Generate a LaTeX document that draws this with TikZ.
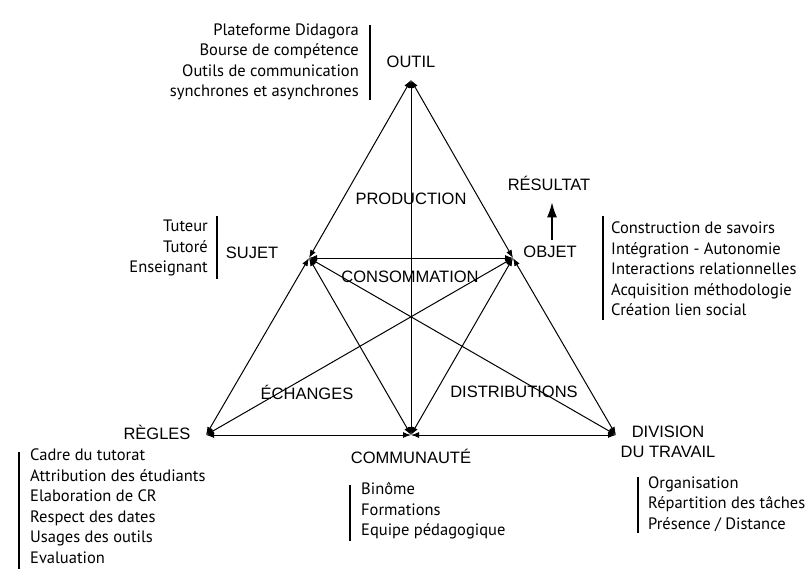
\documentclass[tikz,border=0pt]{standalone}
\usepackage{fontspec}
\usetikzlibrary{arrows.meta}
\newfontfamily\grosfont{Liberation Sans}
\newfontfamily\listefont{PT Sans}
\begin{document}
\begin{tikzpicture}[x=1bp,y=-1bp,
		titre/.style={font=\grosfont\fontsize{16.5bp}{20bp}\selectfont, inner sep=0},
		liste/.style={font=\listefont\fontsize{16.5bp}{20.5bp}\selectfont, inner sep=0},
		fleche/.style={{Latex[length=8bp,width=6bp]}-{Latex[length=8bp,width=6bp]}, line width=1bp},
		barre/.style={line width=1.3bp}]
				\useasboundingbox[fill=white] (0,0) rectangle (809,569);
				% sommets du triangle
				\coordinate (T) at (411,80);
				\coordinate (S) at (309,258);
				\coordinate (O) at (513,258);
				\coordinate (R) at (206,435);
				\coordinate (C) at (411,435);
				\coordinate (D) at (616,435);
				\draw[fleche] (T) -- (S);
				\draw[fleche] (T) -- (O);
				\draw[fleche] (T) -- (C);
				\draw[fleche] (S) -- (O);
				\draw[fleche] (S) -- (R);
				\draw[fleche] (S) -- (C);
				\draw[fleche] (S) -- (D);
				\draw[fleche] (O) -- (R);
				\draw[fleche] (O) -- (C);
				\draw[fleche] (O) -- (D);
				\draw[fleche] (R) -- (C);
				\draw[fleche] (C) -- (D);
				% les poles
				\node[titre] (outil) at (411,62) {OUTIL};
				\node[titre] (sujet) at (252,253) {SUJET};
				\node[titre] (objet) at (550,252) {OBJET};
				\node[titre] (resultat) at (549,183) {RÉSULTAT};
				\node[titre] (regles) at (157,432) {RÈGLES};
				\node[titre] (communaute) at (411,456) {COMMUNAUTÉ};
				\node[titre, align=center] (division) at (668,442) {DIVISION\\DU TRAVAIL};
				\node[titre] (production) at (411,199) {PRODUCTION};
				\node[titre] (consommation) at (410,277) {CONSOMMATION};
				\node[titre] (echanges) at (307,392) {ÉCHANGES};
				\node[titre] (distributions) at (514,392) {DISTRIBUTIONS};
				\coordinate (objhaut) at (552,240);
				\draw[-{Latex[length=15bp,width=10bp]}, line width=1.2bp, shorten >=12bp] (objhaut) -- (objhaut |- resultat.south);
				% les listes
				\node[liste, anchor=east, align=right] (outilliste) at (359,62) {Plateforme Didagora\\Bourse de compétence\\Outils de communication\\synchrones et asynchrones};
				\draw[barre] (370,25) -- (370,100);
				\node[liste, anchor=east, align=right] (sujetliste) at (208,248) {Tuteur\\Tutoré\\Enseignant};
				\draw[barre] (217,216) -- (217,279);
				\node[liste, anchor=west, align=left] (objetliste) at (611,269) {Construction de savoirs\\Intégration - Autonomie\\Interactions relationnelles\\Acquisition méthodologie\\Création lien social};
				\draw[barre] (603,216) -- (603,320);
				\node[liste, anchor=west, align=left] (reglesliste) at (30,506) {Cadre du tutorat\\Attribution des étudiants\\Elaboration de CR\\Respect des dates\\Usages des outils\\Evaluation};
				\draw[barre] (19,452) -- (19,569);
				\node[liste, anchor=west, align=left] (commliste) at (361,511) {Binôme\\Formations\\Equipe pédagogique};
				\draw[barre] (350,485) -- (350,541);
				\node[liste, anchor=west, align=left] (divliste) at (648,504) {Organisation\\Répartition des tâches\\Présence / Distance};
				\draw[barre] (638,477) -- (638,533);
			\end{tikzpicture}
\end{document}
